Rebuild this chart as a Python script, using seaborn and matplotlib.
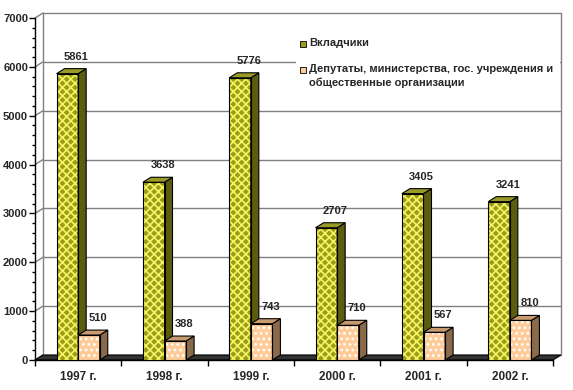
"""
Вкладчики vs. депутаты/министерства — псевдо-3D столбчатая диаграмма (1997–2002).
"""
import numpy as np
import pandas as pd
import seaborn as sns
import matplotlib

matplotlib.use("Agg")
import matplotlib.pyplot as plt
import matplotlib.transforms as mtransforms
from matplotlib.patches import Polygon, Rectangle

# данные
years = ["1997 г.", "1998 г.", "1999 г.", "2000 г.", "2001 г.", "2002 г."]
depositors = [5861, 3638, 5776, 2707, 3405, 3241]
officials = [510, 388, 743, 710, 567, 810]
series_names = ["Вкладчики",
                "Депутаты, министерства, гос. учреждения и\nобщественные организации"]

df = pd.DataFrame({
    "year": years * 2,
    "value": depositors + officials,
    "group": [series_names[0]] * len(years) + [series_names[1]] * len(years),
})

# цвета: фасад, бок, верх, штриховка
FRONT = ["#9c9c1c", "#ffcc99"]
SIDE = ["#5c5c10", "#8a6a4a"]
TOP = ["#9a9a28", "#c89a70"]
HATCH = ["#f5f560", "#ffffff"]
DX, DY = 8, 5          # глубина "3D" в пикселях

sns.set_theme(style="white")
plt.rcParams["font.family"] = ["Liberation Sans", "DejaVu Sans"]
plt.rcParams["hatch.linewidth"] = 1.2

fig = plt.figure(figsize=(5.73, 3.90), dpi=100)
ax = fig.add_axes([35 / 573, 30 / 390, 518 / 573, 342 / 390])

sns.barplot(data=df, x="year", y="value", hue="group", order=years,
            hue_order=series_names, palette=FRONT, width=0.5,
            saturation=1, legend=False, ax=ax, zorder=5)

ax.set_xlim(-0.5, len(years) - 0.5)
ax.set_ylim(0, 7000)
ax.set_xlabel("")
ax.set_ylabel("")

# оси и деления
for s in ["top", "right"]:
    ax.spines[s].set_visible(False)
for s in ["left", "bottom"]:
    ax.spines[s].set_color("black")
    ax.spines[s].set_linewidth(1.0)
ax.set_yticks(np.arange(0, 7001, 1000))
ax.set_yticks(np.arange(0, 7001, 200), minor=True)
ax.set_xticks(np.arange(-0.5, len(years), 1.0), minor=True)
ax.tick_params(axis="y", which="major", left=True, length=4, width=1,
               color="black", labelsize=8, pad=1)
ax.tick_params(axis="y", which="minor", left=True, length=2, width=1, color="black")
ax.tick_params(axis="x", which="major", bottom=False, length=0, labelsize=8.5, pad=8)
ax.tick_params(axis="x", which="minor", bottom=True, length=4, width=1, color="black")
for lab in ax.get_yticklabels() + ax.get_xticklabels():
    lab.set_fontweight("bold")
ax.grid(False)

# "3D" элементы в пиксельных координатах
ident = mtransforms.IdentityTransform()
tr = ax.transData.transform
xl, xr = -0.5, len(years) - 0.5

# задняя стенка: сетка, левая и правая грани
for v in range(0, 7001, 1000):
    (px0, py), (px1, _) = tr([(xl, v), (xr, v)])
    ax.add_line(plt.Line2D([px0 + DX, px1 + DX], [py + DY, py + DY],
                           transform=ident, color="#808080", lw=1,
                           zorder=1, clip_on=False))
    ax.add_line(plt.Line2D([px0, px0 + DX], [py, py + DY],
                           transform=ident, color="#808080", lw=1,
                           zorder=1, clip_on=False))
(bx0, by0), (bx1, by1) = tr([(xl, 0), (xr, 7000)])
for xx in (bx0 + DX, bx1 + DX):
    ax.add_line(plt.Line2D([xx, xx], [by0 + DY, by1 + DY], transform=ident,
                           color="#808080", lw=1, zorder=1, clip_on=False))

# пол
ax.add_patch(Polygon([(bx0, by0), (bx1, by0), (bx1 + DX, by0 + DY), (bx0 + DX, by0 + DY)],
                     closed=True, transform=ident, facecolor="#333333",
                     edgecolor="black", lw=0.8, zorder=2, clip_on=False))

# столбцы: фасад со штриховкой, бок, верх, подписи
for k, cont in enumerate(ax.containers):
    for bar, val in zip(cont.patches, cont.datavalues):
        z = 5 + 2 * k
        bar.set_edgecolor(HATCH[k])
        bar.set_hatch("..." if k == 1 else "xxxx")
        bar.set_linewidth(0)
        bar.set_zorder(z)
        x0 = bar.get_x()
        w = bar.get_width()
        (fx0, fy0), (fx1, fy1) = tr([(x0, 0), (x0 + w, val)])
        side = Polygon([(fx1, fy0), (fx1 + DX, fy0 + DY), (fx1 + DX, fy1 + DY), (fx1, fy1)],
                       closed=True, transform=ident, facecolor=SIDE[k],
                       edgecolor="black", lw=0.8, zorder=z, clip_on=False)
        top = Polygon([(fx0, fy1), (fx1, fy1), (fx1 + DX, fy1 + DY), (fx0 + DX, fy1 + DY)],
                      closed=True, transform=ident, facecolor=TOP[k],
                      edgecolor="black", lw=0.8, zorder=z, clip_on=False)
        ax.add_patch(side)
        ax.add_patch(top)
        ax.add_patch(Rectangle((x0, 0), w, val, fill=False, edgecolor="black",
                               lw=0.8, zorder=z + 0.5))
        ax.text(fx0 + (fx1 - fx0 + DX) / 2 + 5, fy1 + DY + 7, f"{val:.0f}",
                transform=ident, ha="center", va="bottom", fontsize=8,
                fontweight="bold", zorder=20)

# легенда (маркер выровнен по первой строке подписи, как в оригинале)
fig.patches.append(Rectangle((296 / 573, 1 - 97 / 390), 264 / 573, 70 / 390,
                             transform=fig.transFigure, facecolor="white",
                             edgecolor="none", zorder=30))
leg_y = [44, 70]
for i, name in enumerate(series_names):
    yf = 1 - leg_y[i] / 390
    fig.patches.append(Rectangle((300 / 573, yf - 3 / 390), 6 / 573, 6 / 390,
                                 transform=fig.transFigure, facecolor=FRONT[i],
                                 edgecolor="black", lw=0.6, zorder=31))
    fig.text(309 / 573, yf + 6 / 390, name, ha="left", va="top", fontsize=8,
             fontweight="bold", linespacing=1.45, zorder=31)

fig.savefig("out.png", dpi=100)
plt.close(fig)
